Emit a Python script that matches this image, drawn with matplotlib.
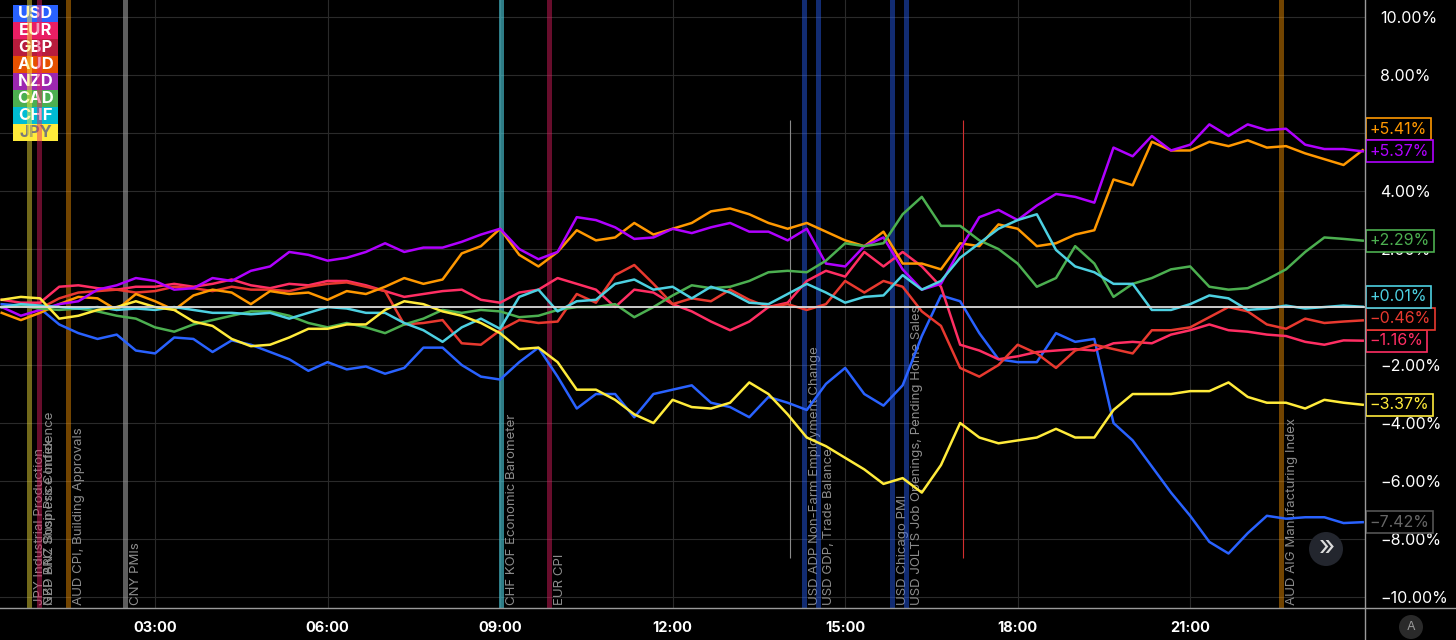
import numpy as np
import matplotlib
matplotlib.use("Agg")
import matplotlib.pyplot as plt
from matplotlib.patches import Rectangle, Circle
from matplotlib.lines import Line2D
from matplotlib.transforms import IdentityTransform

plt.rcParams['font.family'] = ['Inter', 'DejaVu Sans']

# sample times in hours (20 min steps)
hours = np.arange(72) / 3 + 1 / 3

currencies = ["USD", "EUR", "GBP", "AUD", "NZD", "CAD", "CHF", "JPY"]

usd = [0.1, 0.05, -0.05, -0.6, -0.9, -1.1, -0.95, -1.5, -1.6, -1.05,
       -1.1, -1.55, -1.15, -1.3, -1.55, -1.8, -2.2, -1.9, -2.15, -2.05,
       -2.3, -2.1, -1.4, -1.4, -2.0, -2.4, -2.5, -1.9, -1.4, -2.4,
       -3.5, -3.0, -3.0, -3.8, -3.0, -2.85, -2.7, -3.3, -3.45, -3.8,
       -3.1, -3.3, -3.55, -2.65, -2.1, -3.0, -3.4, -2.7, -1.0, 0.4,
       0.2, -0.9, -1.8, -1.9, -1.9, -0.9, -1.2, -1.1, -4.0, -4.6,
       -5.5, -6.4, -7.2, -8.1, -8.5, -7.8, -7.2, -7.3, -7.25, -7.25,
       -7.45, -7.42]
eur = [0.25, 0.15, 0.15, 0.7, 0.75, 0.65, 0.6, 0.7, 0.7, 0.8,
       0.7, 0.8, 0.95, 0.75, 0.65, 0.8, 0.75, 0.9, 0.9, 0.75,
       0.55, 0.35, 0.45, 0.55, 0.6, 0.25, 0.15, 0.5, 0.6, 1.0,
       0.8, 0.6, 0.0, 0.6, 0.5, 0.1, -0.15, -0.5, -0.8, -0.5,
       0.0, 0.15, 0.9, 1.25, 1.05, 1.9, 1.4, 1.9, 1.4, 0.7,
       -1.3, -1.5, -1.8, -1.7, -1.55, -1.5, -1.45, -1.5, -1.25, -1.2,
       -1.25, -0.95, -0.8, -0.6, -0.8, -0.85, -0.95, -1.0, -1.2, -1.3,
       -1.15, -1.16]
gbp = [0.0, 0.05, -0.05, 0.3, 0.5, 0.55, 0.6, 0.5, 0.55, 0.7,
       0.65, 0.55, 0.7, 0.6, 0.6, 0.55, 0.7, 0.8, 0.85, 0.7,
       0.55, -0.6, -0.55, -0.45, -1.25, -1.3, -0.8, -0.45, -0.55, -0.5,
       0.45, 0.15, 1.1, 1.45, 0.8, 0.1, 0.3, 0.2, 0.6, 0.25,
       0.0, 0.1, -0.1, 0.1, 0.9, 0.5, 0.9, 0.7, -0.15, -0.65,
       -2.1, -2.4, -2.0, -1.3, -1.6, -2.1, -1.5, -1.3, -1.45, -1.6,
       -0.8, -0.8, -0.7, -0.35, 0.0, -0.15, -0.6, -0.75, -0.4, -0.55,
       -0.5, -0.46]
aud = [-0.2, -0.45, -0.2, 0.1, 0.35, 0.3, -0.1, 0.45, 0.2, -0.1,
       0.4, 0.6, 0.5, 0.1, 0.55, 0.45, 0.5, 0.25, 0.55, 0.45,
       0.7, 1.0, 0.8, 0.95, 1.85, 2.1, 2.7, 1.8, 1.4, 1.9,
       2.65, 2.3, 2.4, 2.9, 2.5, 2.7, 2.9, 3.3, 3.4, 3.2,
       2.9, 2.7, 2.9, 2.6, 2.3, 2.1, 2.6, 1.5, 1.5, 1.3,
       2.2, 2.1, 2.85, 2.7, 2.1, 2.2, 2.5, 2.65, 4.4, 4.2,
       5.7, 5.4, 5.4, 5.7, 5.55, 5.75, 5.5, 5.55, 5.3, 5.1,
       4.9, 5.41]
nzd = [0.0, -0.3, -0.1, 0.1, 0.2, 0.6, 0.75, 1.0, 0.9, 0.6,
       0.65, 1.0, 0.9, 1.25, 1.4, 1.9, 1.8, 1.6, 1.7, 1.9,
       2.2, 1.9, 2.05, 2.05, 2.25, 2.5, 2.7, 2.0, 1.65, 1.9,
       3.1, 3.0, 2.75, 2.35, 2.4, 2.7, 2.55, 2.75, 2.9, 2.6,
       2.6, 2.3, 2.7, 1.5, 1.4, 2.1, 2.4, 1.3, 0.6, 0.8,
       2.0, 3.1, 3.35, 3.0, 3.5, 3.9, 3.8, 3.6, 5.5, 5.2,
       5.9, 5.4, 5.6, 6.3, 5.9, 6.3, 6.1, 6.15, 5.6, 5.45,
       5.45, 5.37]
cad = [0.0, 0.05, -0.05, -0.1, -0.05, -0.15, -0.3, -0.4, -0.7, -0.85,
       -0.6, -0.45, -0.3, -0.15, -0.15, -0.3, -0.55, -0.7, -0.55, -0.7,
       -0.9, -0.6, -0.4, -0.1, -0.2, -0.1, -0.15, -0.35, -0.3, -0.1,
       0.0, 0.0, 0.1, -0.35, 0.0, 0.4, 0.75, 0.65, 0.7, 0.9,
       1.2, 1.25, 1.2, 1.6, 2.2, 2.1, 2.2, 3.2, 3.8, 2.8,
       2.8, 2.3, 2.0, 1.5, 0.7, 1.0, 2.1, 1.5, 0.35, 0.8,
       1.0, 1.3, 1.4, 0.7, 0.6, 0.65, 0.95, 1.3, 1.9, 2.4,
       2.35, 2.29]
chf = [0.0, 0.1, 0.05, 0.0, -0.05, 0.0, -0.1, -0.05, -0.1, 0.0,
       -0.1, -0.2, -0.2, -0.25, -0.2, -0.4, -0.2, 0.0, -0.05, -0.2,
       -0.2, -0.55, -0.8, -1.2, -0.7, -0.4, -0.75, 0.35, 0.6, -0.15,
       0.2, 0.25, 0.8, 0.95, 0.6, 0.7, 0.3, 0.7, 0.5, 0.15,
       0.1, 0.45, 0.8, 0.5, 0.15, 0.35, 0.4, 1.1, 0.6, 0.9,
       1.7, 2.2, 2.7, 3.0, 3.2, 1.97, 1.4, 1.2, 0.8, 0.8,
       -0.1, -0.1, 0.1, 0.4, 0.3, -0.1, -0.05, 0.05, -0.05, 0.0,
       0.05, 0.01]
jpy = [0.25, 0.35, 0.3, -0.4, -0.3, -0.1, 0.0, 0.2, 0.0, -0.1,
       -0.5, -0.65, -1.1, -1.35, -1.3, -1.05, -0.75, -0.75, -0.6, -0.6,
       -0.1, 0.2, 0.1, -0.15, -0.3, -0.55, -0.9, -1.45, -1.4, -1.9,
       -2.85, -2.85, -3.2, -3.7, -4.0, -3.2, -3.45, -3.5, -3.3, -2.6,
       -3.0, -3.7, -4.5, -4.8, -5.2, -5.6, -6.1, -5.9, -6.4, -5.45,
       -4.0, -4.5, -4.7, -4.6, -4.5, -4.2, -4.5, -4.5, -3.55, -3.0,
       -3.0, -3.0, -2.9, -2.9, -2.6, -3.1, -3.3, -3.3, -3.5, -3.2,
       -3.3, -3.37]

series = [usd, eur, gbp, aud, nzd, cad, chf, jpy]
line_colors = ["#2962ff", "#ff2e63", "#e8392f", "#ff9800",
               "#b000ff", "#4caf50", "#4dd0e1", "#ffeb3b"]
legend_colors = ["#2962ff", "#e91e63", "#b71c3c", "#e65100",
                 "#9c27b0", "#4caf50", "#00bcd4", "#ffeb3b"]
box_colors = ["#555555", "#ff2e63", "#e8392f", "#ff9800",
              "#b000ff", "#4caf50", "#4dd0e1", "#ffeb3b"]

x_ticks = [3, 6, 9, 12, 15, 18, 21]
x_tick_labels = ["03:00", "06:00", "09:00", "12:00", "15:00", "18:00", "21:00"]
y_ticks = [-10, -8, -6, -4, -2, 0, 2, 4, 6, 8, 10]
# 0% and 6% sit under the value boxes, so they are not shown
y_tick_labels = ["\u221210.00%", "\u22128.00%", "\u22126.00%", "\u22124.00%",
                 "\u22122.00%", "", "2.00%", "4.00%", "", "8.00%", "10.00%"]

event_hours = [0.81, 0.98, 0.98, 1.48, 2.48, 9.02, 9.85,
               14.29, 14.53, 15.82, 16.06, 22.58]
event_names = ["JPY Industrial Production", "GBP BRC Shop Price Index",
               "NZD ANZ Business Confidence", "AUD CPI, Building Approvals",
               "CNY PMIs", "CHF KOF Economic Barometer", "EUR CPI",
               "USD ADP Non-Farm Employment Change", "USD GDP, Trade Balance",
               "USD Chicago PMI", "USD JOLTS Job Openings, Pending Home Sales",
               "AUD AIG Manufacturing Index"]
event_colors = ["#ffeb3b", "#e91e63", "#e91e63", "#ff9800", "#9e9e9e",
                "#4dd0e1", "#e91e63", "#2962ff", "#2962ff", "#2962ff",
                "#2962ff", "#ff9800"]

# thin crosshair-like markers
marker_hours = [14.04, 17.05]
marker_colors = ["#8a8a8a", "#d32f2f"]

fig = plt.figure(figsize=(14.56, 6.4), dpi=100, facecolor="black")
ax = fig.add_axes([0, 32 / 640, 1365 / 1456, 608 / 640])
ax.set_facecolor("black")
ax.set_xlim(0.304, 24.04)
ax.set_ylim(-10.38, 10.59)

ax.set_axisbelow(True)
ax.grid(True, color="#2a2a2a", lw=0.8)
for s in ax.spines.values():
    s.set_visible(False)

ax.set_xticks(x_ticks)
ax.set_xticklabels(x_tick_labels, color="white", fontsize=10.5, fontweight="bold")
ax.tick_params(axis="x", length=0, pad=9)
ax.yaxis.tick_right()
ax.set_yticks(y_ticks)
ax.set_yticklabels(y_tick_labels)
ax.tick_params(axis="y", length=0, pad=11, labelsize=11.5, labelcolor="white")

# event bands and labels
for h in sorted(set(event_hours)):
    c = event_colors[event_hours.index(h)]
    a = 0.6 if c in ("#9e9e9e", "#4dd0e1") else 0.45
    ax.axvline(h, color=c, lw=3.6, alpha=a, zorder=5)
for h, name in zip(event_hours, event_names):
    ax.text(h + 0.09, -10.28, name, rotation=90, ha="left", va="bottom",
            fontsize=9.5, color="#8c8c8c", zorder=4)

for h, c in zip(marker_hours, marker_colors):
    ax.vlines(h, -8.66, 6.45, color=c, lw=0.8, zorder=6)

# series
for vals, c in zip(series, line_colors):
    ax.plot(hours, vals, color=c, lw=1.8, zorder=10, solid_joinstyle="round")

ax.axhline(0, color="#d9d9d9", lw=1.3, zorder=12)

# legend boxes top-left
bw, bh = 45 / 1365, 17 / 608
for i, (name, c) in enumerate(zip(currencies, legend_colors)):
    y0 = 1 - (5 + 17 * (i + 1)) / 608
    ax.add_patch(Rectangle((13 / 1365, y0), bw, bh, transform=ax.transAxes,
                           facecolor=c, edgecolor="none", zorder=3))
    ax.text(13 / 1365 + bw / 2, y0 + bh / 2, name, transform=ax.transAxes,
            ha="center", va="center", fontsize=12, fontweight="bold",
            color="#7a7a7a" if name == "JPY" else "white", zorder=3)

# last-value boxes on the right, spread so they do not overlap
last_values = [s[-1] for s in series]
gap = 0.76
label_pos = {}
prev = None
for i in np.argsort(last_values):
    y = last_values[i]
    if prev is not None and y < prev + gap:
        y = prev + gap
    label_pos[i] = y
    prev = y
for i, v in enumerate(last_values):
    txt = f"{v:+.2f}%".replace("-", "\u2212")
    tc = "#666666" if currencies[i] == "USD" else box_colors[i]
    ax.text(1.0035, label_pos[i], txt, transform=ax.get_yaxis_transform(),
            ha="left", va="center", fontsize=11.5, color=tc, clip_on=False,
            zorder=20,
            bbox=dict(boxstyle="square,pad=0.22", fc="black",
                      ec=box_colors[i], lw=1.2))

# frame lines
fig.add_artist(Line2D([1365 / 1456, 1365 / 1456], [0, 1], color="#9a9a9a", lw=1.0))
fig.add_artist(Line2D([0, 1], [32 / 640, 32 / 640], color="#9a9a9a", lw=1.0))

# buttons
fig.add_artist(Circle((1326, 91), 17, transform=IdentityTransform(),
                      facecolor="#23262e", edgecolor="none", zorder=30))
fig.text(1327, 92, "\u00bb", transform=IdentityTransform(), ha="center",
         va="center", fontsize=20, color="#dcdcdc", zorder=31)
fig.add_artist(Circle((1411, 13), 12, transform=IdentityTransform(),
                      facecolor="#2a2a2a", edgecolor="none", zorder=30))
fig.text(1411, 13, "A", transform=IdentityTransform(), ha="center",
         va="center", fontsize=9, color="#9a9a9a", zorder=31)

fig.savefig("out.png", dpi=100, facecolor="black")
